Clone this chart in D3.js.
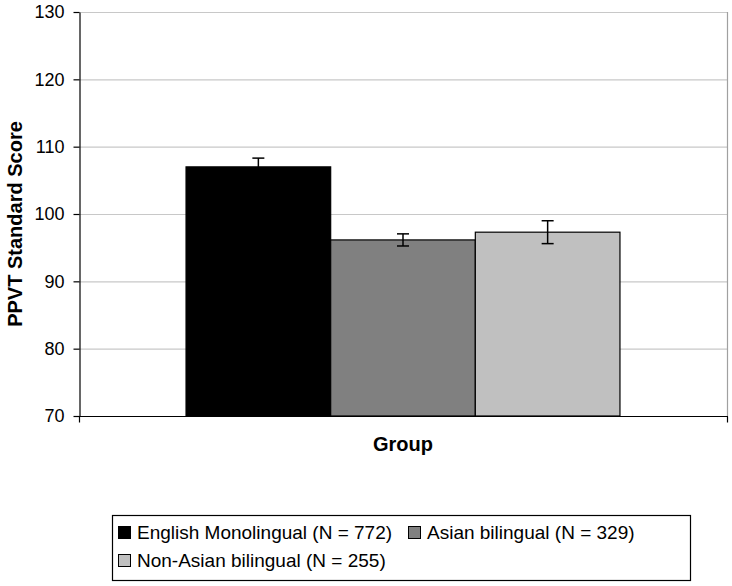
<!DOCTYPE html>
<html>
<head>
<meta charset="utf-8">
<script src="https://cdn.jsdelivr.net/npm/d3@7"></script>
<style>
  body { margin: 0; background: #fff; }
  svg { display: block; font-family: "Liberation Sans", Arial, sans-serif; }
</style>
</head>
<body>
<div id="chart"></div>
<script>
// Data
var groups = ['English Monolingual (N = 772)', 'Asian bilingual (N = 329)', 'Non-Asian bilingual (N = 255)'];
var scores = [107.0, 96.15, 97.3];
var errors = [1.3, 0.9, 1.7];
var fills = ['#000000', '#808080', '#c0c0c0'];
var yTicks = [70, 80, 90, 100, 110, 120, 130];

var W = 732, H = 586;
var plotL = 79, plotR = 727, plotT = 12, plotB = 416;

var svg = d3.select('#chart').append('svg')
    .attr('width', W)
    .attr('height', H)
;

// Scales
var y = d3.scaleLinear().domain([70, 130]).range([plotB, plotT]);
var band = d3.scaleBand().domain(['Group']).range([plotL, plotR]);
var barX = d3.scaleBand().domain(d3.range(groups.length))
    .range([band('Group'), band('Group') + band.bandwidth()])
    .paddingInner(0)
    .paddingOuter(0.74)
;

// Gridlines
svg.append('g').selectAll('line')
    .data(yTicks.slice(1))
    .enter()
    .append('line')
    .attr('x1', plotL)
    .attr('x2', plotR)
    .attr('y1', function (d) { return y(d) + 0.5; })
    .attr('y2', function (d) { return y(d) + 0.5; })
    .attr('stroke', '#c8c8c8')
    .attr('stroke-width', 1.2)
;

// Plot area border (right side)
svg.append('line')
    .attr('x1', plotR + 0.5).attr('x2', plotR + 0.5)
    .attr('y1', plotT).attr('y2', plotB)
    .attr('stroke', '#a0a0a0')
    .attr('stroke-width', 1.2)
;

// Bars
svg.append('g').selectAll('rect')
    .data(scores)
    .enter()
    .append('rect')
    .attr('x', function (d, i) { return barX(i); })
    .attr('y', function (d) { return y(d); })
    .attr('width', barX.bandwidth())
    .attr('height', function (d) { return plotB - y(d); })
    .attr('fill', function (d, i) { return fills[i]; })
    .attr('stroke', '#000')
    .attr('stroke-width', 1.2)
;

// Error bars
var eb = svg.append('g').selectAll('g')
    .data(scores)
    .enter()
    .append('g')
    .attr('stroke', '#000')
    .attr('stroke-width', 1.5)
;
eb.append('line')
    .attr('x1', function (d, i) { return barX(i) + barX.bandwidth() / 2; })
    .attr('x2', function (d, i) { return barX(i) + barX.bandwidth() / 2; })
    .attr('y1', function (d, i) { return y(d + errors[i]); })
    .attr('y2', function (d, i) { return y(d - errors[i]); })
;
[1, -1].forEach(function (s) {
    eb.append('line')
        .attr('x1', function (d, i) { return barX(i) + barX.bandwidth() / 2 - 6; })
        .attr('x2', function (d, i) { return barX(i) + barX.bandwidth() / 2 + 6; })
        .attr('y1', function (d, i) { return y(d + s * errors[i]); })
        .attr('y2', function (d, i) { return y(d + s * errors[i]); })
    ;
});

// Y axis
var yAxis = svg.append('g')
    .attr('transform', 'translate(' + (plotL + 0.5) + ',0)')
    .call(d3.axisLeft(y).tickValues(yTicks).tickSize(6).tickSizeOuter(0).tickPadding(9))
;
yAxis.selectAll('text')
    .attr('font-size', '18px')
    .attr('font-family', '"Liberation Sans", Arial, sans-serif')
    .attr('fill', '#000')
;
yAxis.selectAll('line, path').attr('stroke', '#000').attr('stroke-width', 1.2);

// X axis
var xAxis = svg.append('g')
    .attr('transform', 'translate(0,' + (plotB + 0.5) + ')')
;
xAxis.append('line')
    .attr('x1', plotL).attr('x2', plotR + 1)
    .attr('stroke', '#000').attr('stroke-width', 1.2)
;
xAxis.selectAll('.tk')
    .data(band.range())
    .enter()
    .append('line')
    .attr('class', 'tk')
    .attr('x1', function (d) { return d + 0.5; })
    .attr('x2', function (d) { return d + 0.5; })
    .attr('y1', 0)
    .attr('y2', 6)
    .attr('stroke', '#000')
    .attr('stroke-width', 1.2)
;

// Axis titles
svg.append('text')
    .text('Group')
    .attr('x', band('Group') + band.bandwidth() / 2)
    .attr('y', 451)
    .attr('text-anchor', 'middle')
    .attr('font-weight', 'bold')
    .attr('font-size', '20px')
;
svg.append('text')
    .text('PPVT Standard Score')
    .attr('transform', 'translate(22,224) rotate(-90)')
    .attr('text-anchor', 'middle')
    .attr('font-weight', 'bold')
    .attr('font-size', '20px')
;

// Legend
var lg = svg.append('g');
lg.append('rect')
    .attr('x', 112.5).attr('y', 515.5)
    .attr('width', 578).attr('height', 65)
    .attr('fill', '#fff')
    .attr('stroke', '#000')
    .attr('stroke-width', 1.2)
;
var legendPos = [[118, 539], [408, 539], [118, 567]];
var items = lg.selectAll('g.item')
    .data(groups)
    .enter()
    .append('g')
    .attr('class', 'item')
    .attr('transform', function (d, i) {
        return 'translate(' + legendPos[i][0] + ',' + legendPos[i][1] + ')';
    })
;
items.append('rect')
    .attr('x', 0.5).attr('y', -12.5)
    .attr('width', 12).attr('height', 12)
    .attr('fill', function (d, i) { return fills[i]; })
    .attr('stroke', '#000')
;
items.append('text')
    .text(function (d) { return d; })
    .attr('x', 19)
    .attr('y', 0)
    .attr('font-size', '19px')
;
</script>
</body>
</html>
